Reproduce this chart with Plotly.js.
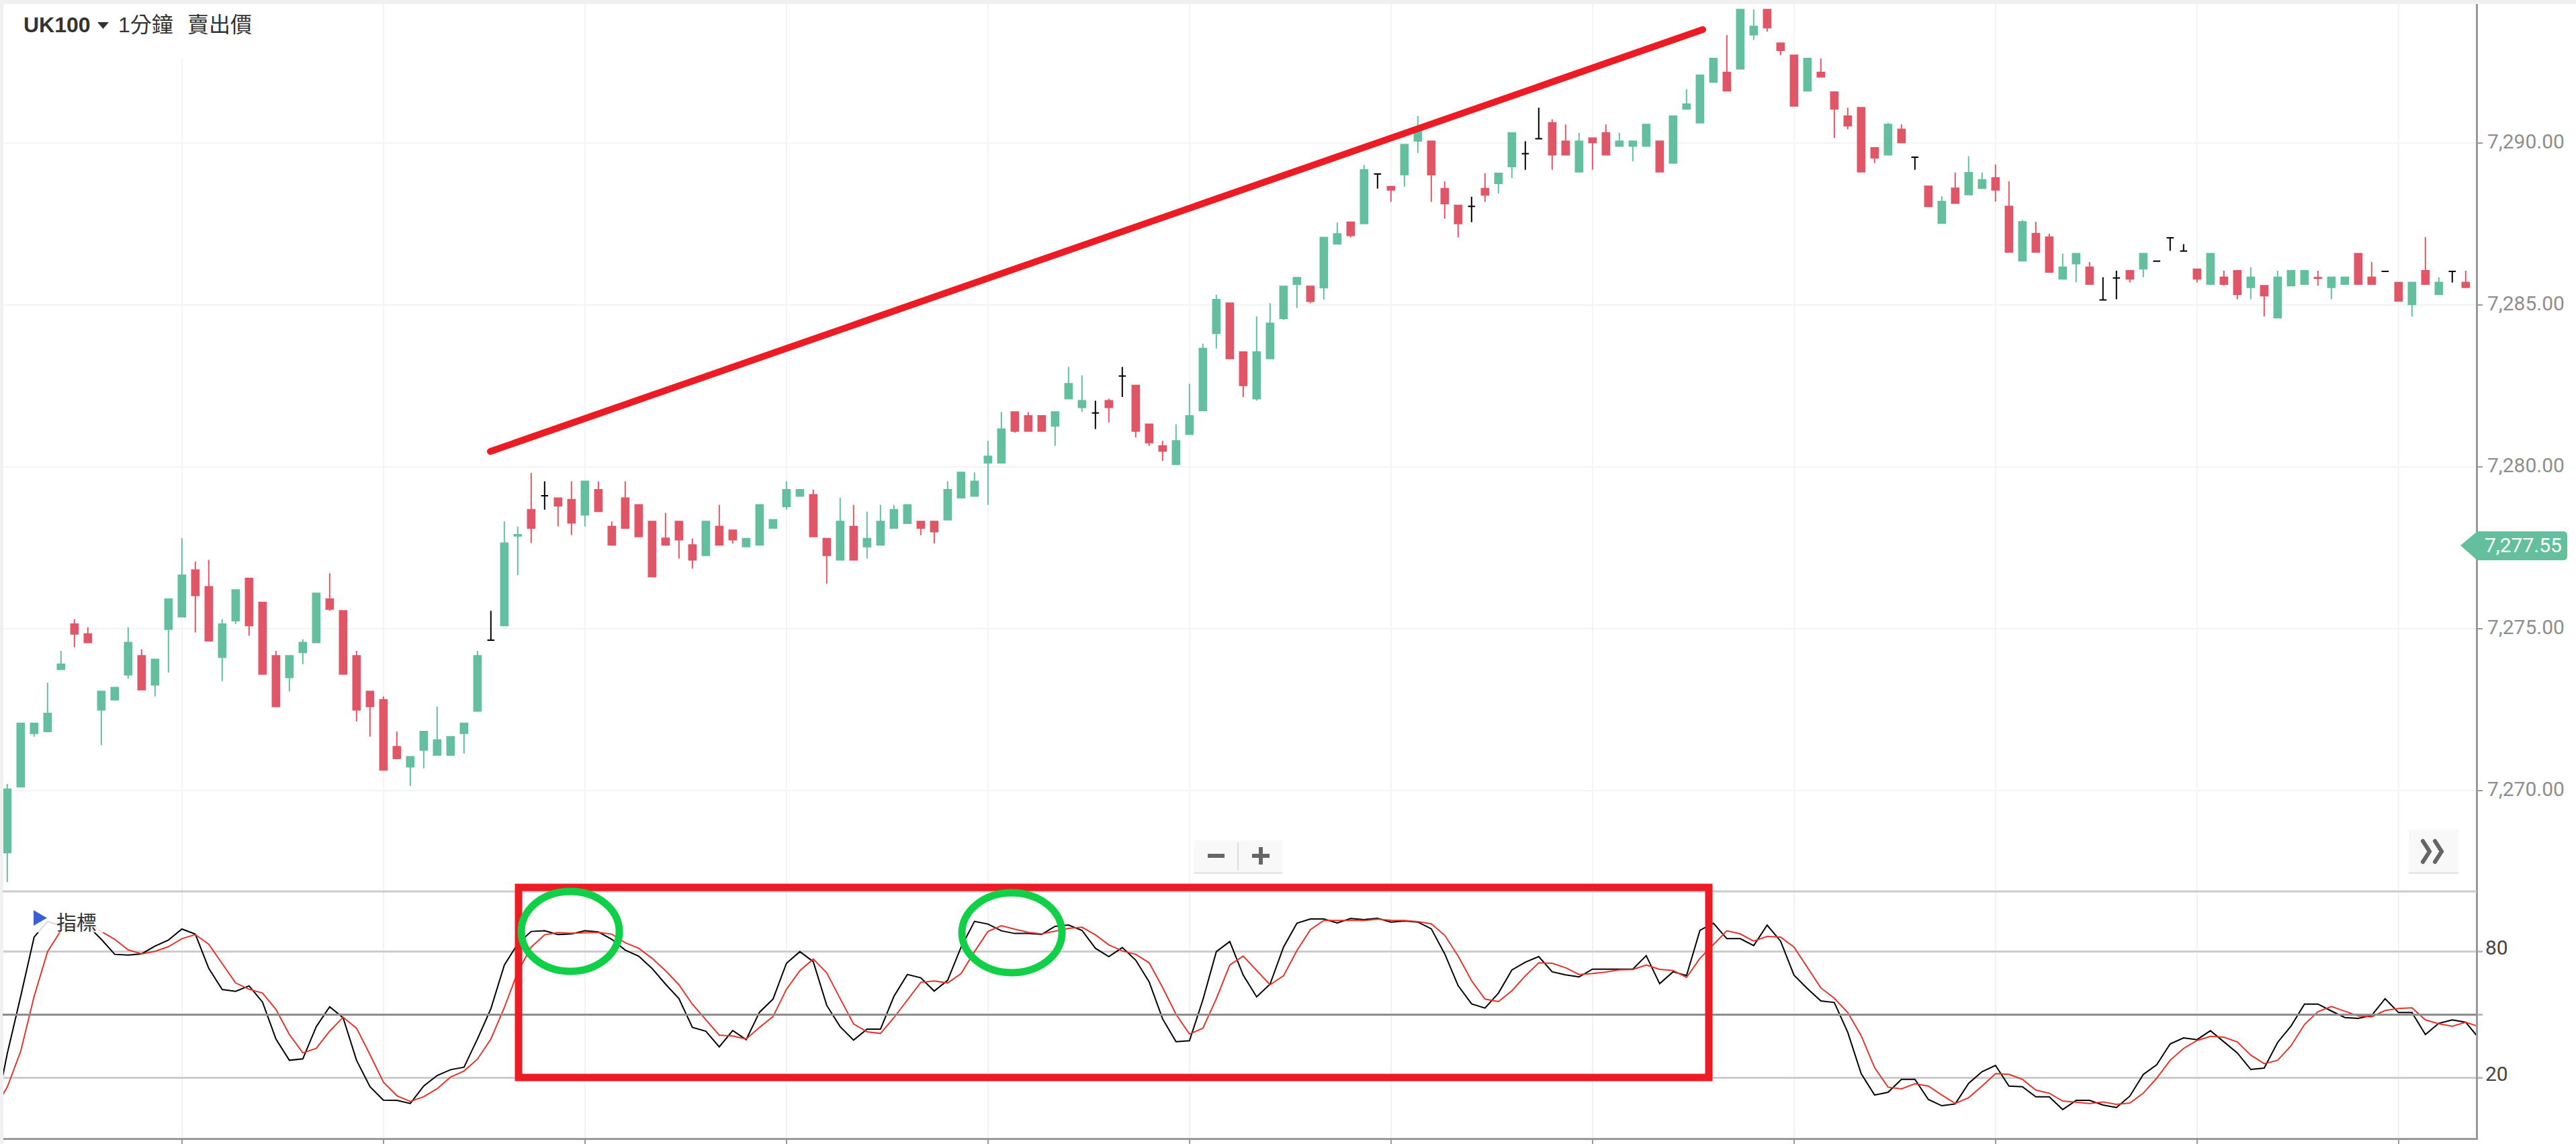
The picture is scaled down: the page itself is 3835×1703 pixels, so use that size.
<!DOCTYPE html>
<html>
<head>
<meta charset="utf-8">
<script src="https://cdn.plot.ly/plotly-3.0.1.min.js"></script>
<style>
html,body{margin:0;padding:0;background:#fff;}
.shapelayer path{stroke-linecap:round;}
</style>
</head>
<body>
<div id="chart" style="width:3835px;height:1703px;"></div>
<script>
const candleOpen=[7268.09,7270.12,7271.77,7271.83,7273.75,7275.15,7274.84,7272.50,7272.81,7273.58,
7274.17,7273.27,7274.99,7275.37,7276.82,7276.30,7274.12,7275.25,7276.56,7275.82,
7274.17,7273.50,7274.27,7274.58,7275.92,7275.56,7274.17,7273.07,7272.81,7271.36,
7270.74,7271.26,7271.10,7271.10,7271.77,7272.46,7274.65,7275.10,7277.87,7278.68,
7279.11,7279.04,7278.99,7278.52,7279.30,7278.16,7279.04,7278.83,7278.32,7277.80,
7278.32,7277.59,7277.27,7278.16,7278.05,7277.54,7277.59,7278.11,7278.78,7279.10,
7279.14,7277.79,7277.13,7278.16,7277.54,7277.59,7278.11,7278.26,7278.32,7278.32,
7278.37,7279.05,7279.10,7280.13,7280.13,7281.70,7281.58,7281.58,7281.27,7282.11,
7281.84,7281.67,7282.05,7282.81,7282.52,7281.32,7280.65,7280.08,7281.01,7281.74,
7284.13,7285.06,7283.55,7282.11,7283.35,7284.59,7285.64,7285.58,7285.54,7286.89,
7287.56,7287.52,7289.05,7288.66,7289.03,7290.07,7290.06,7288.60,7288.08,7288.05,
7288.60,7288.76,7289.28,7289.68,7290.14,7290.63,7290.06,7289.12,7290.16,7290.32,
7289.91,7289.91,7289.91,7290.06,7289.39,7291.06,7290.63,7291.89,7292.19,7292.30,
7293.35,7294.13,7293.09,7292.72,7291.62,7292.19,7291.58,7290.84,7291.10,7289.86,
7289.64,7290.43,7289.57,7288.67,7287.53,7288.61,7288.41,7288.61,7288.93,7288.05,
7286.37,7287.21,7287.10,7285.81,7286.28,7286.17,7285.16,7285.84,7286.06,7286.12,
7286.36,7287.08,7286.67,7286.11,7285.65,7285.86,7286.06,7285.55,7285.60,7284.61,
7285.60,7285.65,7285.85,7285.55,7285.65,7286.59,7285.86,7286.04,7285.70,7285.02,
7286.06,7285.33,7286.04,7285.70];
const candleHigh=[7270.21,7272.08,7272.08,7273.34,7274.32,7275.30,7275.05,7273.07,7273.19,7275.05,
7274.37,7274.06,7275.92,7277.80,7277.08,7277.13,7275.30,7276.20,7276.56,7275.82,
7274.32,7274.17,7274.68,7276.10,7276.72,7275.56,7274.32,7273.07,7272.91,7271.83,
7271.05,7271.83,7272.60,7271.67,7272.08,7274.32,7275.56,7278.32,7278.16,7279.82,
7279.56,7279.04,7279.56,7279.56,7279.56,7278.32,7279.56,7278.83,7278.32,7278.58,
7278.32,7277.79,7278.32,7278.83,7278.05,7277.79,7278.83,7278.37,7279.56,7279.30,
7279.30,7277.79,7279.05,7278.83,7278.62,7278.83,7278.83,7278.83,7278.32,7278.32,
7279.56,7279.83,7279.83,7280.81,7281.70,7281.70,7281.70,7281.58,7281.70,7283.09,
7282.83,7282.05,7282.11,7283.09,7282.52,7281.32,7280.81,7281.32,7282.57,7283.81,
7285.32,7285.06,7283.55,7284.65,7285.06,7285.58,7285.85,7285.58,7287.09,7287.55,
7287.56,7289.33,7289.05,7288.66,7289.96,7290.84,7290.06,7288.82,7288.08,7288.35,
7289.07,7289.07,7290.32,7290.06,7291.10,7290.74,7290.58,7290.32,7290.16,7290.58,
7290.32,7290.06,7290.58,7290.06,7290.84,7291.67,7292.10,7292.62,7293.34,7294.13,
7294.13,7294.13,7293.09,7292.72,7292.62,7292.62,7291.58,7291.10,7291.10,7289.86,
7290.63,7290.58,7289.57,7288.67,7288.36,7289.09,7289.60,7289.09,7289.34,7288.82,
7287.63,7287.57,7287.21,7286.59,7286.59,7286.33,7285.86,7286.06,7286.06,7286.59,
7286.36,7287.08,7286.88,7286.11,7286.59,7286.06,7286.06,7286.17,7285.60,7286.06,
7286.06,7286.06,7286.06,7285.86,7285.86,7286.59,7286.33,7286.04,7285.70,7285.70,
7287.10,7285.86,7286.04,7286.06];
const candleLow=[7267.18,7270.12,7271.67,7271.83,7273.75,7274.43,7274.58,7271.41,7272.81,7273.46,
7273.12,7272.91,7273.65,7275.37,7274.89,7274.63,7273.39,7275.15,7274.79,7273.60,
7272.60,7273.07,7273.91,7274.58,7275.56,7273.60,7272.14,7271.67,7270.64,7271.00,
7270.15,7270.69,7271.10,7271.10,7271.15,7272.46,7274.65,7275.10,7276.66,7277.65,
7278.68,7278.16,7277.90,7278.16,7278.63,7277.59,7278.11,7277.85,7276.61,7277.59,
7277.17,7276.86,7277.27,7277.59,7277.64,7277.54,7277.59,7278.11,7278.68,7279.10,
7277.85,7276.40,7277.13,7277.13,7277.17,7277.59,7278.11,7278.26,7277.89,7277.64,
7278.37,7279.05,7279.10,7278.83,7280.13,7281.06,7281.11,7281.11,7280.65,7282.11,
7281.70,7281.17,7281.38,7282.16,7280.91,7280.65,7280.19,7280.08,7281.01,7281.74,
7283.66,7283.35,7282.16,7282.05,7283.35,7284.54,7284.91,7285.06,7285.17,7286.89,
7287.09,7287.52,7288.60,7288.19,7288.66,7289.70,7288.19,7287.67,7287.09,7287.56,
7288.19,7288.45,7288.92,7289.18,7290.14,7289.18,7289.64,7289.12,7289.18,7289.64,
7289.91,7289.44,7289.91,7289.12,7289.39,7291.06,7290.63,7291.89,7291.62,7292.30,
7293.19,7293.45,7292.72,7291.15,7291.62,7292.05,7290.16,7290.43,7289.12,7289.39,
7289.64,7290.02,7289.18,7288.05,7287.53,7288.15,7288.41,7288.61,7288.20,7286.64,
7286.37,7286.64,7286.02,7285.81,7285.70,7285.65,7285.16,7285.18,7285.70,7285.86,
7286.36,7286.68,7286.67,7285.70,7285.65,7285.60,7285.18,7285.18,7284.65,7284.61,
7285.60,7285.65,7285.60,7285.18,7285.65,7285.65,7285.65,7286.04,7285.13,7284.65,
7285.65,7285.33,7285.70,7285.55];
const candleClose=[7270.05,7272.08,7272.08,7272.39,7273.91,7274.84,7274.58,7273.07,7273.19,7274.58,
7273.12,7274.06,7275.92,7276.66,7276.03,7274.63,7275.15,7276.20,7275.10,7273.60,
7272.60,7274.17,7274.58,7276.10,7275.61,7273.60,7272.50,7272.60,7270.64,7271.00,
7271.05,7271.83,7271.57,7271.67,7272.08,7274.17,7274.65,7277.65,7277.91,7278.11,
7279.11,7278.80,7278.27,7279.56,7278.63,7277.59,7278.11,7277.85,7276.61,7277.59,
7277.75,7277.13,7278.32,7277.59,7277.75,7277.79,7278.83,7278.37,7279.30,7279.30,
7277.85,7277.27,7278.32,7277.13,7277.79,7278.32,7278.68,7278.83,7278.11,7278.00,
7279.30,7279.83,7279.56,7280.33,7281.17,7281.11,7281.11,7281.11,7281.70,7282.57,
7282.05,7281.67,7281.84,7282.81,7281.11,7280.75,7280.49,7280.81,7281.58,7283.66,
7285.17,7283.35,7282.52,7283.55,7284.44,7285.58,7285.85,7285.12,7287.09,7287.20,
7287.15,7289.18,7289.05,7288.56,7289.96,7290.47,7289.03,7288.13,7287.52,7288.05,
7288.40,7289.07,7290.32,7289.68,7290.14,7289.64,7289.64,7290.06,7290.02,7289.64,
7290.06,7290.06,7290.58,7289.12,7290.84,7291.21,7292.10,7292.62,7291.62,7294.13,
7293.61,7293.57,7292.87,7291.15,7292.62,7292.05,7291.06,7290.54,7289.12,7289.55,
7290.58,7290.02,7289.57,7288.05,7288.20,7288.15,7289.09,7288.87,7288.56,7286.64,
7287.57,7286.64,7286.02,7286.17,7286.59,7285.65,7285.16,7285.84,7285.81,7286.59,
7286.36,7287.08,7286.67,7285.81,7286.59,7285.65,7285.33,7285.86,7285.29,7285.86,
7286.06,7286.06,7285.83,7285.86,7285.86,7285.65,7285.65,7286.04,7285.13,7285.70,
7285.65,7285.70,7286.04,7285.55];
const blackCandles=[36,40,81,83,102,109,113,114,142,156,157,160,161,162,177,182];
const stochK=[-0.6,31.4,58.65,86.94,94.41,92.28,91.74,92.28,85.87,78.72,78.40,
78.93,82.67,85.55,90.78,88.33,71.99,61.96,61.10,63.67,55.98,
38.36,28.22,28.86,44.23,53.74,48.51,28.22,15.62,9.22,9.11,
7.62,15.94,20.96,23.74,24.91,38.36,52.78,73.59,83.74,89.61,
89.93,88.11,88.43,89.93,89.39,85.87,80.75,77.86,71.99,64.52,
57.58,43.91,42.10,34.63,42.42,38.04,51.17,57.37,74.45,80.00,
75.20,54.38,44.23,37.83,43.06,43.06,58.65,69.11,67.51,61.21,
66.33,82.13,94.41,93.13,89.93,88.65,88.65,88.22,92.06,92.70,
90.14,81.60,77.65,81.92,75.94,65.59,47.97,37.08,37.51,57.05,
80.00,84.80,68.79,58.43,64.52,82.13,93.56,95.59,95.59,93.66,
95.80,95.27,95.91,94.09,94.63,94.09,90.89,78.93,63.77,55.12,
53.10,60.25,71.25,74.98,77.65,70.39,68.90,67.94,71.67,71.67,
71.67,71.67,78.08,64.73,70.39,68.58,90.14,93.56,86.19,86.19,
82.88,92.60,85.02,68.79,62.38,56.51,55.77,41.57,21.82,11.67,
12.95,19.15,19.15,9.54,6.55,7.40,17.22,22.78,25.77,15.94,
15.62,10.82,10.82,4.73,9.11,9.11,6.87,5.69,11.14,21.50,
26.09,36.01,38.90,38.04,42.31,36.98,31.74,23.84,24.48,36.76,
44.56,55.02,55.02,51.71,48.61,48.19,49.57,57.58,50.96,50.96,
40.50,45.84,47.44,46.37,38.58];
const stochD=[4.7,15.41,32.49,58.65,80.00,90.14,92.81,93.34,89.61,85.87,80.85,
78.93,80.11,82.35,86.19,88.11,83.52,74.13,65.05,62.06,60.25,
52.46,40.50,31.74,33.88,42.10,48.72,43.49,30.89,17.76,11.35,
8.58,10.82,14.66,20.21,23.10,28.75,38.36,53.31,70.39,82.13,
88.01,89.07,88.75,88.97,89.18,88.33,84.27,81.60,76.80,70.92,
64.20,54.91,47.44,40.18,39.75,38.36,43.91,49.04,62.06,70.92,
76.48,69.86,57.58,45.52,41.78,41.03,48.51,57.05,65.37,66.01,
65.05,69.54,80.00,89.61,92.38,90.68,89.18,88.43,89.82,91.10,
91.64,88.01,83.20,80.32,78.72,74.66,62.92,50.11,40.71,43.49,
57.58,73.59,77.86,70.92,64.20,68.47,80.53,90.46,94.84,94.84,
94.84,94.84,95.48,94.95,94.84,94.31,93.24,87.79,77.86,66.12,
57.37,56.19,61.32,68.47,74.66,74.45,72.31,69.11,69.54,70.28,
71.35,71.46,73.59,71.57,71.03,67.72,76.80,83.20,89.93,88.43,
85.02,87.26,86.94,82.13,72.53,62.70,57.79,50.96,39.96,24.70,
15.41,14.56,17.01,15.94,11.67,7.62,10.39,15.94,21.82,21.50,
19.15,14.02,12.53,8.79,8.26,7.62,8.36,7.19,7.83,12.53,
19.68,28.22,33.88,37.62,39.64,39.22,36.98,30.68,26.62,28.22,
35.16,45.30,51.39,53.84,51.60,49.36,48.93,51.92,52.88,53.20,
47.44,45.62,44.45,46.37,44.23];
const timeTicks=[13,28,43,58,73,88,103,118,133,148,163,178];
const priceTicks=[7270,7275,7280,7285,7290];
const oscTicks=[20,50,80];
const oscTickText=["20","","80"];
const lastPrice="7,277.55";

const W=3686,H=1703;
const GREEN="#64bf9f",RED="#e05666",MARK="#ed1c24",LIME="#10d048",GREY="#999999";
const px=x=>x/W, py=y=>1-y/H;
const P=(x,y)=>px(x)+","+py(y);
const idx=candleOpen.map((_,i)=>i);
const isBlack=i=>blackCandles.includes(i);
const pick=(a,f)=>a.filter((_,i)=>f(i));
const colourIdx=i=>!isBlack(i);

function candle(f,up,down){
  return {type:"candlestick",x:pick(idx,f),open:pick(candleOpen,f),high:pick(candleHigh,f),low:pick(candleLow,f),close:pick(candleClose,f),
    xaxis:"x",yaxis:"y",whiskerwidth:0,hoverinfo:"skip",showlegend:false,
    increasing:{line:{color:up,width:2},fillcolor:up},decreasing:{line:{color:down,width:2},fillcolor:down}};
}
const oscX=stochK.map((_,i)=>i-1);
const traces=[
  candle(colourIdx,GREEN,RED),
  candle(isBlack,"#000000","#000000"),
  {type:"scatter",mode:"lines",x:oscX,y:stochK,xaxis:"x2",yaxis:"y2",line:{color:"#000000",width:2},hoverinfo:"skip",showlegend:false},
  {type:"scatter",mode:"lines",x:oscX,y:stochD,xaxis:"x2",yaxis:"y2",line:{color:"#e5352b",width:2},hoverinfo:"skip",showlegend:false}
];

function box(x0,y0,x1,y1,fill,extra){
  return Object.assign({type:"rect",xref:"paper",yref:"paper",x0:px(x0),x1:px(x1),y0:py(y0),y1:py(y1),fillcolor:fill,line:{width:0},layer:"above"},extra||{});
}
function seg(x0,y0,x1,y1,color,w){
  return {type:"line",xref:"paper",yref:"paper",x0:px(x0),x1:px(x1),y0:py(y0),y1:py(y1),line:{color:color,width:w},layer:"above"};
}
function poly(d,fill,line){
  return {type:"path",xref:"paper",yref:"paper",path:d,fillcolor:fill,line:line||{width:0},layer:"above"};
}
const shapes=[
  box(0,0,5,H,"#f0f0f0"),
  box(0,0,3835,6,"#f0f0f0"),
  box(6,6,400,87,"#ffffff"),
  seg(5,1327,W,1327,"#cccccc",3),
  seg(5,1510.5,W,1510.5,"#8c8c8c",3),
  box(48,1352,165,1388,"rgba(255,255,255,0.85)"),
  // trend line
  {type:"path",xref:"paper",yref:"paper",path:"M"+P(730,672)+" L"+P(2535,44),line:{color:MARK,width:10},layer:"above"},
  // highlighted area
  {type:"rect",xref:"paper",yref:"paper",x0:px(772),x1:px(2544),y0:py(1321),y1:py(1604),line:{color:MARK,width:11},fillcolor:"rgba(0,0,0,0)",layer:"above"},
  {type:"circle",xref:"paper",yref:"paper",x0:px(776),x1:px(922),y0:py(1327),y1:py(1446),line:{color:LIME,width:11},fillcolor:"rgba(0,0,0,0)",layer:"above"},
  {type:"circle",xref:"paper",yref:"paper",x0:px(1432),x1:px(1581),y0:py(1329),y1:py(1448),line:{color:LIME,width:11},fillcolor:"rgba(0,0,0,0)",layer:"above"},
  // symbol dropdown caret
  poly("M"+P(145,33)+" L"+P(162,33)+" L"+P(153.5,43)+" Z","#333333"),
  // indicator triangle
  poly("M"+P(50,1355)+" L"+P(70,1366.5)+" L"+P(50,1378)+" Z","#3b5fd0"),
  // last price tag
  poly("M"+P(3663,812)+" L"+P(3688,791)+" L"+P(3816,791)+" Q"+P(3822,791)+" "+P(3822,797)+" L"+P(3822,828)+" Q"+P(3822,834)+" "+P(3816,834)+" L"+P(3688,834)+" Z",GREEN),
  // zoom buttons
  box(1778,1254,1909,1301,"#e6e6e6"),
  box(1778,1251,1909,1298,"#f8f8f8"),
  seg(1843,1255,1843,1295,"#dddddd",2),
  box(1798,1271,1823,1277,"#666666"),
  box(1864,1271,1890,1277,"#666666"),
  box(1874,1261,1880,1287,"#666666"),
  // forward button
  box(3586,1238,3660,1301,"#e6e6e6"),
  box(3586,1235,3660,1298,"#f8f8f8"),
  poly("M"+P(3607,1252)+" L"+P(3617,1267.5)+" L"+P(3607,1283),"rgba(0,0,0,0)",{color:"#666666",width:6}),
  poly("M"+P(3625,1252)+" L"+P(3635,1267.5)+" L"+P(3625,1283),"rgba(0,0,0,0)",{color:"#666666",width:6})
];
function label(text,x,y,size,color,family){
  return {text:text,xref:"paper",yref:"paper",x:px(x),y:py(y),xanchor:"left",yanchor:"middle",showarrow:false,borderpad:0,
    font:{size:size,color:color,family:family}};
}
const CJK='"Liberation Sans","Noto Sans CJK TC",sans-serif';
const annotations=[
  label("<b>UK100</b>",34,37,32,"#333333",CJK),
  label("1分鐘",175,37,32,"#333333",CJK),
  label("賣出價",278,37,32,"#333333",CJK),
  label("指標",83,1373,30,"#333333",CJK),
  label(lastPrice,3698,812,30,"#ffffff","Roboto")
];
const layout={
  width:3835,height:1703,margin:{l:0,r:149,t:0,b:0,pad:0},
  paper_bgcolor:"#ffffff",plot_bgcolor:"#ffffff",showlegend:false,boxgap:0.47,boxgroupgap:0,
  xaxis:{domain:[0,1],anchor:"y",range:[-0.54,183.76],type:"linear",rangeslider:{visible:false},
    tickvals:timeTicks,showticklabels:false,ticks:"",showgrid:true,gridcolor:"#f3f3f3",gridwidth:2,zeroline:false,showline:false},
  yaxis:{domain:[py(1327),py(6)],anchor:"x",side:"right",range:[7266.89,7294.30],tickvals:priceTicks,tickformat:",.2f",
    showgrid:true,gridcolor:"#f3f3f3",gridwidth:2,zeroline:false,showline:true,linecolor:GREY,linewidth:3,
    ticks:"outside",ticklen:7,tickwidth:2,tickcolor:GREY,ticklabelstandoff:1,ticklabelshift:-3,tickfont:{family:"Roboto",size:30,color:"#8e8e8e"}},
  xaxis2:{domain:[0,1],anchor:"y2",range:[-0.54,183.76],type:"linear",tickvals:timeTicks,showticklabels:false,
    ticks:"outside",ticklen:9,tickwidth:2,tickcolor:GREY,showgrid:true,gridcolor:"#f1f1f1",gridwidth:2,zeroline:false,
    showline:true,linecolor:GREY,linewidth:3},
  yaxis2:{domain:[py(1694.3),py(1327)],anchor:"x2",side:"right",range:[-8.9,108.7],tickvals:oscTicks,ticktext:oscTickText,
    showgrid:true,gridcolor:"#cccccc",gridwidth:3,zeroline:false,showline:true,linecolor:GREY,linewidth:3,
    ticks:"outside",ticklen:7,tickwidth:3,tickcolor:"#bbbbbb",ticklabelstandoff:-2,ticklabelshift:-6,tickfont:{family:"Roboto",size:30,color:"#444444"}},
  shapes:shapes,annotations:annotations
};
Plotly.newPlot("chart",traces,layout,{staticPlot:true,displayModeBar:false});
</script>
</body>
</html>
